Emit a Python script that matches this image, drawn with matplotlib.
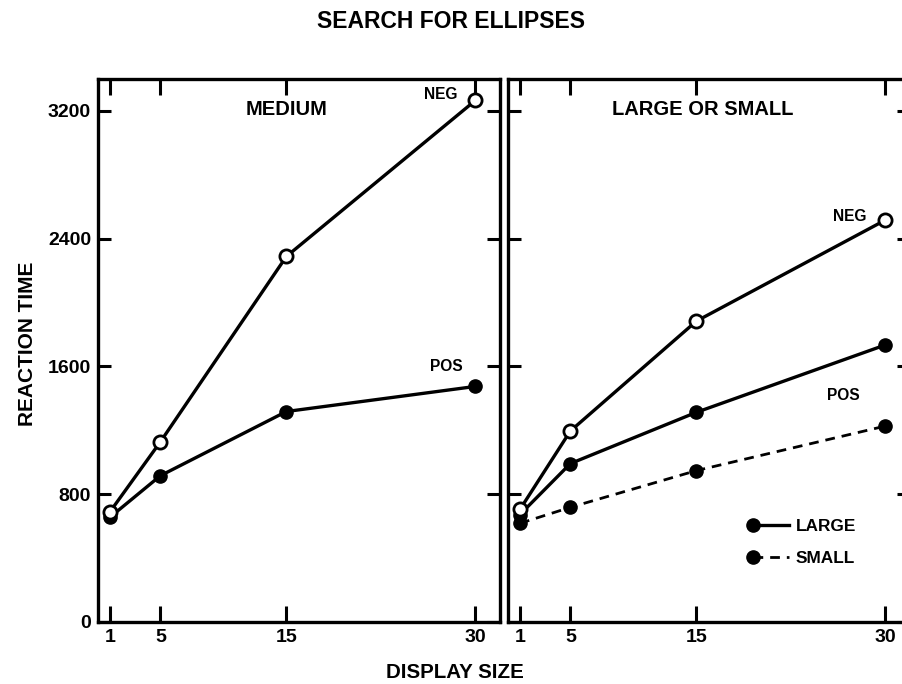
import matplotlib
matplotlib.use("Agg")
import matplotlib.pyplot as plt
from matplotlib.lines import Line2D
from matplotlib.legend_handler import HandlerLine2D

plt.rcParams['font.family'] = ['Liberation Sans', 'DejaVu Sans']
plt.rcParams['font.weight'] = 'bold'

display_size = [1, 5, 15, 30]
x_ticks = [1, 5, 15, 30]
y_ticks = [0, 800, 1600, 2400, 3200]

# MEDIUM panel
medium_neg = [690, 1128, 2289, 3266]
medium_pos = [656, 916, 1318, 1475]

# LARGE OR SMALL panel
ls_neg = [705, 1196, 1884, 2517]
large_pos = [673, 992, 1313, 1735]
small_pos = [618, 718, 948, 1227]

fig = plt.figure(figsize=(9.02, 6.84), dpi=100)
W, H = 902, 684
def rect(l, r, t, b):
    return [l / W, 1 - b / H, (r - l) / W, (b - t) / H]

ax1 = fig.add_axes(rect(98, 500, 79, 622))
ax2 = fig.add_axes(rect(508, 910, 79, 622))

lw = 2.4
ms = 9.5
dash = (0, (3.5, 2.5))
for ax in (ax1, ax2):
    ax.set_xlim(0.05, 31.95)
    ax.set_ylim(0, 3400)
    ax.set_xticks(x_ticks)
    ax.set_yticks(y_ticks)
    ax.tick_params(axis='y', direction='in', length=9.5, width=2.2, left=True, right=True,
                   labelsize=14, pad=5, colors='black')
    ax.tick_params(axis='x', direction='in', length=11.5, width=2.2, top=True, bottom=True,
                   labelsize=14, pad=5, colors='black')
    for s in ax.spines.values():
        s.set_linewidth(2.4)
    for lab in ax.get_xticklabels() + ax.get_yticklabels():
        lab.set_fontweight('bold')

ax2.tick_params(labelleft=False)

# Left panel
ax1.plot(display_size, medium_pos, color='black', lw=lw, marker='o', ms=ms,
         mfc='black', mec='black', zorder=3)
ax1.plot(display_size, medium_neg, color='black', lw=lw, marker='o', ms=ms,
         mfc='white', mec='black', mew=2, zorder=4)
ax1.text(15, 3210, 'MEDIUM', ha='center', va='center', fontsize=14.5, fontweight='bold')
ax1.text(28.6, 3300, 'NEG', ha='right', va='center', fontsize=11.2, fontweight='bold')
ax1.text(29.0, 1600, 'POS', ha='right', va='center', fontsize=11.2, fontweight='bold')

# Right panel
ax2.plot(display_size, small_pos, color='black', lw=2, ls=dash, marker='o', ms=ms,
         mfc='black', mec='black', zorder=3)
ax2.plot(display_size, large_pos, color='black', lw=lw, marker='o', ms=ms,
         mfc='black', mec='black', zorder=3)
ax2.plot(display_size, ls_neg, color='black', lw=lw, marker='o', ms=ms,
         mfc='white', mec='black', mew=2, zorder=4)
ax2.text(15.5, 3210, 'LARGE OR SMALL', ha='center', va='center', fontsize=14.5, fontweight='bold')
ax2.text(28.5, 2540, 'NEG', ha='right', va='center', fontsize=11.2, fontweight='bold')
ax2.text(28.0, 1420, 'POS', ha='right', va='center', fontsize=11.2, fontweight='bold')


class LeftMarker(HandlerLine2D):
    def create_artists(self, *args, **kwargs):
        arts = super().create_artists(*args, **kwargs)
        for a in arts:
            a.set_markevery([0])
        return arts


handles = [
    Line2D([], [], color='black', lw=lw, marker='o', ms=ms, mfc='black', mec='black'),
    Line2D([], [], color='black', lw=2, ls=dash, marker='o', ms=ms, mfc='black', mec='black'),
]
leg = fig.legend(handles, ['LARGE', 'SMALL'], loc='upper left',
                 bbox_to_anchor=(753 / W, 1 - 519 / H), bbox_transform=fig.transFigure,
                 frameon=False, fontsize=12.4, borderpad=0, borderaxespad=0,
                 handlelength=2.1, handletextpad=0.4, labelspacing=1.0,
                 handler_map={Line2D: LeftMarker(numpoints=1)})
for t in leg.get_texts():
    t.set_fontweight('bold')

fig.text(0.5, 1 - 22 / H, 'SEARCH FOR ELLIPSES', ha='center', va='center',
         fontsize=16.5, fontweight='bold')
fig.text(28 / W, 1 - 344 / H, 'REACTION TIME', ha='center', va='center',
         rotation=90, fontsize=15, fontweight='bold')
fig.text(455 / W, 1 - 672 / H, 'DISPLAY SIZE', ha='center', va='center',
         fontsize=14.8, fontweight='bold')

fig.savefig('out.png', dpi=100)
